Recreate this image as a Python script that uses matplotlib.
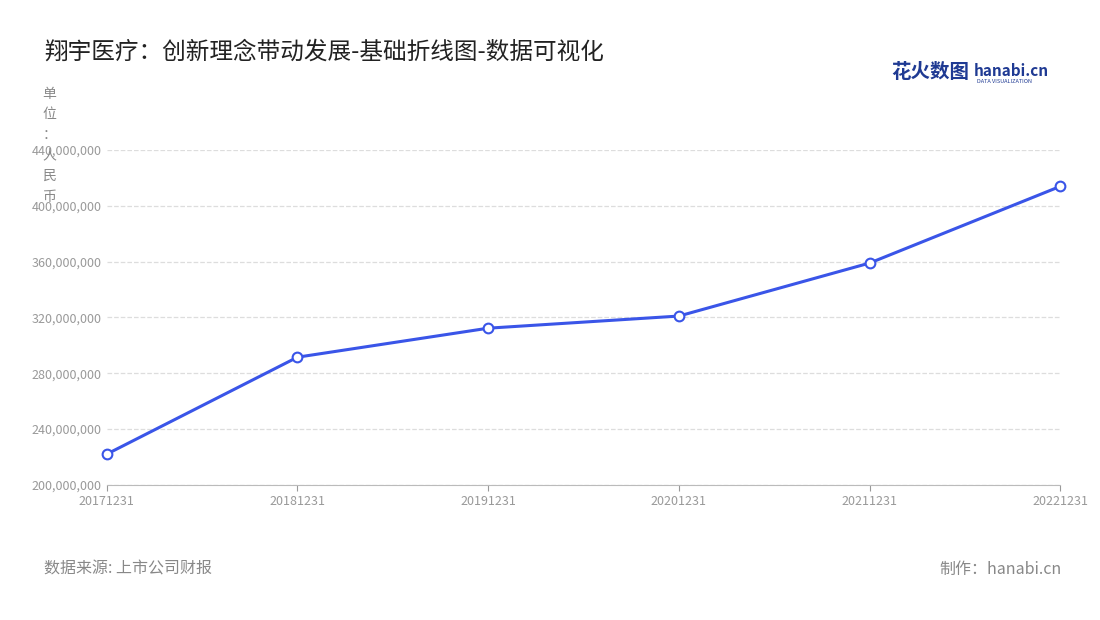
import matplotlib.pyplot as plt
from matplotlib.ticker import FuncFormatter

plt.rcParams['font.family'] = ['Noto Sans CJK SC', 'DejaVu Sans']

dates = ["20171231", "20181231", "20191231", "20201231", "20211231", "20221231"]
values = [222000000, 291500000, 312300000, 321000000, 359000000, 414000000]
y_ticks = [200000000, 240000000, 280000000, 320000000, 360000000, 400000000, 440000000]

fig = plt.figure(figsize=(11, 6.2), dpi=100)
ax = fig.add_axes([0.097, 0.218, 0.867, 0.54])

x = list(range(len(dates)))
ax.plot(x, values, color="#3a55e8", linewidth=2.2, marker="o", markersize=7,
        markerfacecolor="white", markeredgecolor="#3a55e8", markeredgewidth=1.5, zorder=3,
        clip_on=False)

ax.set_xlim(0, len(dates) - 1)
ax.set_ylim(200000000, 440000000)
ax.set_xticks(x)
ax.set_xticklabels(dates)
ax.set_yticks(y_ticks)
ax.yaxis.set_major_formatter(FuncFormatter(lambda v, p: f"{int(v):,}"))
ax.tick_params(axis="both", labelsize=9, colors="#999999", length=4)
ax.tick_params(axis="y", length=0)
ax.grid(axis="y", linestyle="--", color="#dddddd", linewidth=0.9)
for s in ["top", "right", "left"]:
    ax.spines[s].set_visible(False)
ax.spines["bottom"].set_color("#bbbbbb")

fig.text(0.04, 0.905, "翔宇医疗：创新理念带动发展-基础折线图-数据可视化", fontsize=17, color="#222222")
# unit label: stacked characters, overlaps the top tick labels as in the source
fig.text(0.045, 0.86, "单\n位\n：\n人\n民\n币", fontsize=10, color="#888888", va="top",
         ha="center", linespacing=1.6)
fig.text(0.04, 0.075, "数据来源: 上市公司财报", fontsize=11.5, color="#888888")
fig.text(0.965, 0.075, "制作：hanabi.cn", fontsize=11.5, color="#888888", ha="right")
fig.text(0.81, 0.875, "花火数图", fontsize=14, color="#1f3a93", weight="bold")
fig.text(0.885, 0.878, "hanabi.cn", fontsize=11, color="#1f3a93", weight="bold")
fig.text(0.888, 0.866, "DATA VISUALIZATION", fontsize=4, color="#1f3a93")

fig.savefig("out.png", dpi=100)
